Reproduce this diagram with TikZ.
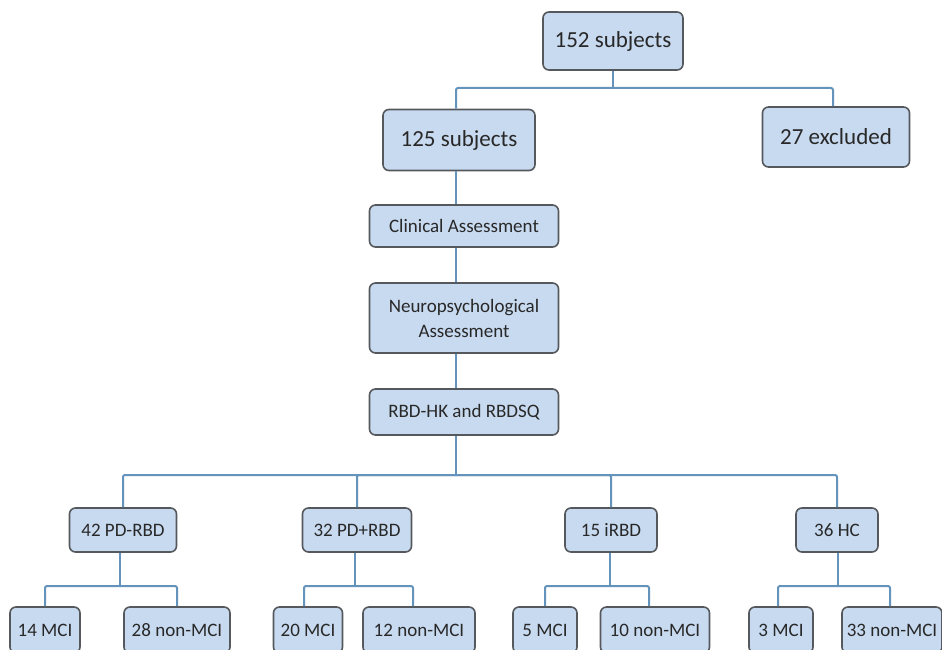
\documentclass[tikz,border=0pt]{standalone}
\usepackage{fontspec}
\setmainfont{Carlito}
\definecolor{boxfill}{RGB}{200,218,240}
\definecolor{boxline}{RGB}{85,88,92}
\definecolor{wire}{RGB}{100,148,188}
\definecolor{txt}{RGB}{40,40,40}
\tikzset{
  box/.style={draw=boxline, line width=1.6pt, fill=boxfill, rounded corners=6pt,
    text=txt, align=center, inner sep=0pt},
  bigbox/.style={box, font=\fontsize{23}{27}\selectfont},
  midbox/.style={box, font=\fontsize{19}{25}\selectfont},
  wireline/.style={draw=wire, line width=2pt, rounded corners=2pt},
}
\begin{document}
\begin{tikzpicture}[x=1pt,y=-1pt]
\useasboundingbox (0,0) rectangle (942,650);
\fill[white] (0,0) rectangle (942,650);
\begin{scope}
\clip (0,0) rectangle (942,650);
% top level
\node[bigbox, minimum width=140, minimum height=58] (top) at (613,41) {152 subjects};
\node[bigbox, minimum width=152, minimum height=61] (n125) at (459,140) {125 subjects};
\node[bigbox, minimum width=147, minimum height=60] (excl) at (836,137) {27 excluded};
% chain
\node[midbox, minimum width=189, minimum height=42] (clin) at (464,226) {Clinical Assessment};
\node[midbox, minimum width=189, minimum height=70] (neuro) at (464,318) {Neuropsychological\\Assessment};
\node[midbox, minimum width=189, minimum height=46] (rbd) at (464,412) {RBD-HK and RBDSQ};
% groups
\node[midbox, minimum width=107, minimum height=44] (g1) at (123,530) {42 PD-RBD};
\node[midbox, minimum width=109, minimum height=44] (g2) at (357,530) {32 PD+RBD};
\node[midbox, minimum width=92, minimum height=44] (g3) at (611,530) {15 iRBD};
\node[midbox, minimum width=82, minimum height=44] (g4) at (837,530) {36 HC};
% leaves
\node[midbox, minimum width=70, minimum height=46] (l1) at (45,630) {14 MCI};
\node[midbox, minimum width=106, minimum height=46] (l2) at (177,630) {28 non-MCI};
\node[midbox, minimum width=69, minimum height=46] (l3) at (308,630) {20 MCI};
\node[midbox, minimum width=112, minimum height=46] (l4) at (419,630) {12 non-MCI};
\node[midbox, minimum width=64, minimum height=46] (l5) at (545,630) {5 MCI};
\node[midbox, minimum width=109, minimum height=46] (l6) at (655,630) {10 non-MCI};
\node[midbox, minimum width=64, minimum height=46] (l7) at (781,630) {3 MCI};
\node[midbox, minimum width=100, minimum height=46] (l8) at (892,630) {33 non-MCI};
% bus coordinates
\coordinate (b0) at (613,88);
\coordinate (b1) at (456,475);
\coordinate (s1) at (120,586);
\coordinate (s2) at (355,586);
\coordinate (s3) at (610,586);
\coordinate (s4) at (838,586);
% connectors
\draw[wireline] (top.south) -- (b0);
\draw[wireline] (b0) -| (n125.north -| 456,0);
\draw[wireline] (b0) -| (excl.north -| 833,0);
\draw[wireline] (n125.south -| 456,0) -- (clin.north -| 456,0);
\draw[wireline] (clin.south -| 456,0) -- (neuro.north -| 456,0);
\draw[wireline] (neuro.south -| 456,0) -- (rbd.north -| 456,0);
\draw[wireline] (rbd.south -| 456,0) -- (b1);
\draw[wireline] (b1) -| (g1.north);
\draw[wireline] (b1) -| (g2.north);
\draw[wireline] (b1) -| (g3.north);
\draw[wireline] (b1) -| (g4.north);
\draw[wireline] (g1.south -| s1) -- (s1);
\draw[wireline] (g2.south -| s2) -- (s2);
\draw[wireline] (g3.south -| s3) -- (s3);
\draw[wireline] (g4.south -| s4) -- (s4);
\draw[wireline] (s1) -| (l1.north);
\draw[wireline] (s1) -| (l2.north);
\draw[wireline] (s2) -| (l3.north -| 304,0);
\draw[wireline] (s2) -| (l4.north -| 413,0);
\draw[wireline] (s3) -| (l5.north);
\draw[wireline] (s3) -| (l6.north -| 649,0);
\draw[wireline] (s4) -| (l7.north -| 778,0);
\draw[wireline] (s4) -| (l8.north -| 890,0);
\end{scope}
\end{tikzpicture}
\end{document}
